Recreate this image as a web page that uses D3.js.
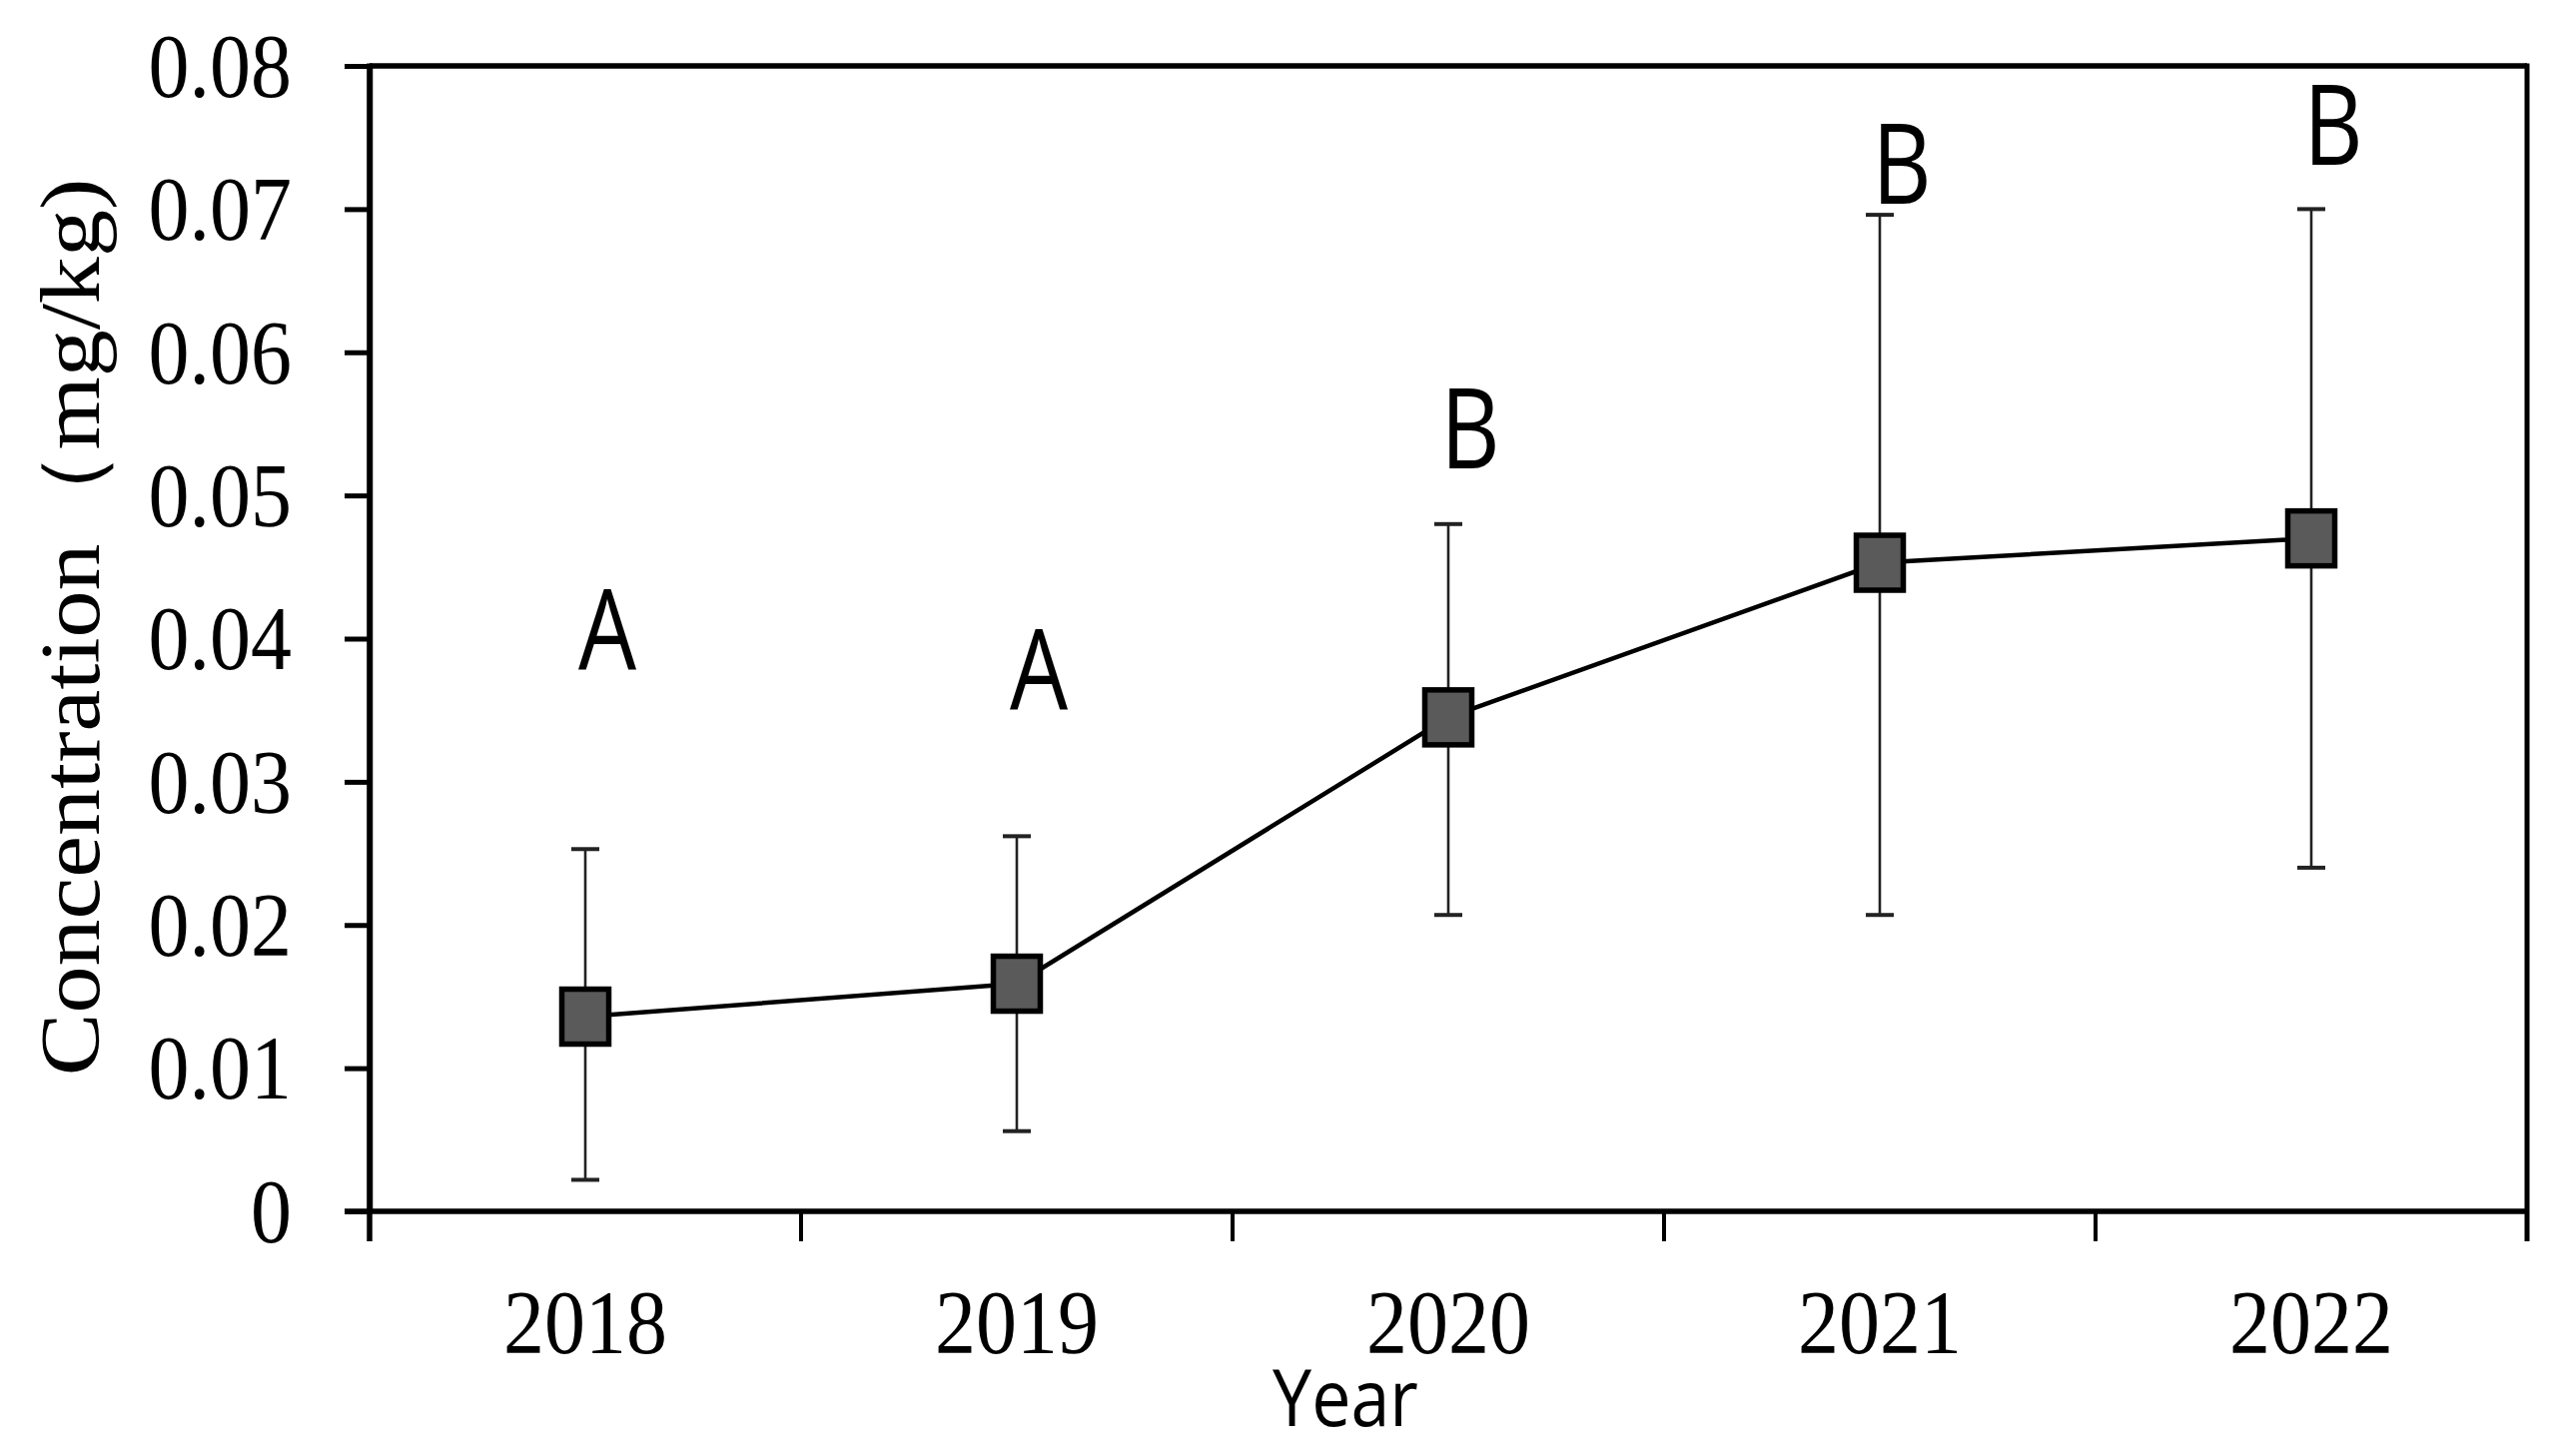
<!DOCTYPE html>
<html>
<head>
<meta charset="utf-8">
<script src="https://cdn.jsdelivr.net/npm/d3@7"></script>
<style>
  html, body { margin: 0; padding: 0; background: #fff; }
  svg { display: block; }
</style>
</head>
<body>
<svg id="chart" width="2559" height="1458"></svg>
<script>
// ---- data ----
const years = ["2018", "2019", "2020", "2021", "2022"];
const meanValues = [0.0136, 0.0159, 0.0345, 0.0453, 0.0470];
const upperValues = [0.0253, 0.0262, 0.0480, 0.0696, 0.0700];
const lowerValues = [0.0022, 0.0056, 0.0207, 0.0207, 0.0240];
const groupLetters = ["A", "A", "B", "B", "B"];
const letterLevels = [0.0379, 0.0351, 0.0519, 0.0704, 0.0731];
const yTickValues = [0, 0.01, 0.02, 0.03, 0.04, 0.05, 0.06, 0.07, 0.08];
const yTickLabels = ["0", "0.01", "0.02", "0.03", "0.04", "0.05", "0.06", "0.07", "0.08"];
const yTitle = "Concentration（mg/kg)";
const xTitle = "Year";

// ---- layout ----
const plotLeft = 370, plotRight = 2530, plotTop = 66, plotBottom = 1213;
const SY = 1.12; // vertical stretch of the original figure
const svg = d3.select("#chart");

const x = d3.scaleBand().domain(years).range([plotLeft, plotRight]).padding(0);
const y = d3.scaleLinear().domain([0, 0.08]).range([plotBottom, plotTop]);
const cx = d => x(d) + x.bandwidth() / 2;

const serif = "'Liberation Serif', 'Times New Roman', serif";
const sans = "'Open Sans', 'Noto Sans', sans-serif";

// ---- y axis ----
const yAxis = d3.axisLeft(y)
  .tickValues(yTickValues)
  .tickFormat((d, i) => yTickLabels[i])
  .tickSize(25)
  .tickSizeOuter(0)
  .tickPadding(53);
const gy = svg.append("g").attr("transform", `translate(${plotLeft},0)`).call(yAxis);
gy.select(".domain").attr("stroke", "#000").attr("stroke-width", 5.5);
gy.selectAll(".tick line").attr("stroke", "#000").attr("stroke-width", 5);
gy.selectAll(".tick text")
  .attr("font-family", serif)
  .attr("font-size", 82)
  .attr("fill", "#000")
  .attr("dy", "0.33em")
  .attr("transform", `scale(1,${SY})`);

// ---- x axis (labels) ----
const xAxis = d3.axisBottom(x).tickSize(0).tickSizeOuter(0);
const gx = svg.append("g").attr("transform", `translate(0,${plotBottom})`).call(xAxis);
gx.select(".domain").remove();
gx.selectAll(".tick text")
  .attr("font-family", serif)
  .attr("font-size", 82)
  .attr("fill", "#000")
  .attr("y", 0).attr("dy", 0)
  .attr("transform", `translate(0,142) scale(1,${SY})`);

// x ticks at band boundaries
const boundaries = years.map(d => x(d)).concat([x.range()[1]]);
svg.append("g").selectAll("line").data(boundaries).join("line")
  .attr("x1", d => d).attr("x2", d => d)
  .attr("y1", plotBottom).attr("y2", plotBottom + 30)
  .attr("stroke", "#000").attr("stroke-width", 4);

// frame
svg.append("line").attr("x1", plotLeft - 25).attr("x2", plotRight + 2)
  .attr("y1", plotBottom).attr("y2", plotBottom)
  .attr("stroke", "#000").attr("stroke-width", 5.5);
svg.append("line").attr("x1", plotLeft).attr("x2", plotRight)
  .attr("y1", plotTop).attr("y2", plotTop)
  .attr("stroke", "#000").attr("stroke-width", 5.5);
svg.append("line").attr("x1", plotRight).attr("x2", plotRight)
  .attr("y1", plotTop - 2.5).attr("y2", plotBottom + 30)
  .attr("stroke", "#000").attr("stroke-width", 5);
svg.append("line").attr("x1", plotLeft).attr("x2", plotLeft)
  .attr("y1", plotTop - 2.5).attr("y2", plotBottom + 30)
  .attr("stroke", "#000").attr("stroke-width", 5.5);

// ---- error bars ----
const eb = svg.append("g").attr("stroke", "#222").attr("stroke-width", 2.6);
years.forEach((d, i) => {
  eb.append("line").attr("x1", cx(d)).attr("x2", cx(d))
    .attr("y1", y(upperValues[i])).attr("y2", y(lowerValues[i]));
  [upperValues[i], lowerValues[i]].forEach(v => {
    eb.append("line").attr("x1", cx(d) - 14).attr("x2", cx(d) + 14)
      .attr("y1", y(v)).attr("y2", y(v)).attr("stroke-width", 4);
  });
});

// ---- line ----
const line = d3.line().x((d, i) => cx(years[i])).y(d => y(d));
svg.append("path").datum(meanValues)
  .attr("d", line).attr("fill", "none")
  .attr("stroke", "#000").attr("stroke-width", 4.5);

// ---- markers ----
const mw = 47, mh = 55;
svg.append("g").selectAll("rect").data(meanValues).join("rect")
  .attr("x", (d, i) => cx(years[i]) - mw / 2)
  .attr("y", d => y(d) - mh / 2)
  .attr("width", mw).attr("height", mh)
  .attr("fill", "#5a5a5a").attr("stroke", "#000").attr("stroke-width", 5.5);

// ---- group letters ----
svg.append("g").selectAll("text").data(groupLetters).join("text")
  .attr("transform", (d, i) => `translate(${cx(years[i]) + 22},${y(letterLevels[i])}) scale(0.92,${SY})`)
  .attr("text-anchor", "middle")
  .attr("font-family", sans)
  .attr("font-size", 100)
  .attr("fill", "#000")
  .text(d => d);

// ---- axis titles ----
svg.append("text")
  .attr("transform", `translate(99,628) rotate(-90) scale(${SY},1)`)
  .attr("text-anchor", "middle")
  .attr("font-family", serif)
  .attr("font-size", 84)
  .attr("fill", "#000")
  .text(yTitle);

svg.append("text")
  .attr("transform", `translate(1347,1428) scale(1,${SY})`)
  .attr("text-anchor", "middle")
  .attr("font-family", sans)
  .attr("font-size", 70)
  .attr("fill", "#000")
  .text(xTitle);
</script>
</body>
</html>
